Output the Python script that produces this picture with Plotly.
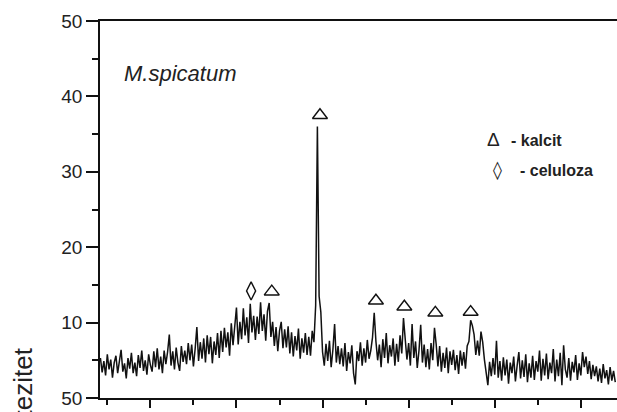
import plotly.graph_objects as go

# XRD pattern: 2-theta grid start/step and intensities
theta_start = 4.2
theta_step = 0.2
intensity = [
    5.3, 3.4, 4.9, 3.0, 5.8, 3.8, 5.1, 2.7, 4.7, 5.6,
    3.3, 4.8, 6.4, 3.5, 4.6, 2.6, 5.3, 3.9, 6.0, 3.3,
    4.7, 2.9, 5.7, 4.0, 6.3, 3.6, 5.0, 3.1, 5.8, 4.4,
    3.5, 6.2, 4.1, 6.6, 3.8, 5.5, 3.3, 6.3, 4.5, 6.1,
    8.4, 4.3, 6.2, 3.8, 6.7, 4.7, 3.6, 6.9, 4.8, 6.3,
    4.5, 7.3, 5.0, 7.1, 4.2, 6.5, 9.4, 4.9, 7.4, 5.2,
    7.9, 4.7, 8.3, 5.8, 8.1, 4.6, 7.5, 5.7, 8.6, 5.3,
    8.9, 6.1, 9.3, 6.7, 8.7, 5.6, 9.9, 7.0, 9.1, 12.0,
    7.1, 10.1, 7.8, 11.9, 8.3, 10.7, 7.3, 12.5, 8.7, 10.9,
    7.7, 10.8, 8.5, 12.7, 8.9, 11.1, 7.6, 11.5, 12.6, 8.1,
    10.1, 6.9, 9.4, 6.2, 8.9, 10.1, 6.6, 9.1, 6.7, 9.5,
    5.9, 8.7, 5.5, 8.2, 6.3, 9.2, 5.2, 7.9, 6.0, 8.6,
    5.7, 8.1, 5.6, 8.9, 7.4, 12.3, 36.0, 13.5, 11.4, 6.1,
    4.3, 7.2, 4.9, 7.6, 4.1, 6.4, 9.8, 4.7, 6.9, 4.5,
    6.6, 4.2, 7.3, 3.6, 6.1, 4.6, 7.0, 3.3, 1.8, 6.2,
    4.9, 7.4, 4.3, 6.6, 4.7, 7.7, 5.2, 6.3, 8.0, 11.3,
    7.5, 5.0, 7.1, 4.1, 7.8, 5.3, 8.6, 4.6, 7.0, 5.5,
    7.9, 4.3, 7.2, 4.8, 8.3, 5.9, 10.6, 8.0, 5.1, 7.3,
    4.3, 9.8, 5.3, 7.5, 4.0, 6.3, 9.7, 4.7, 7.1, 4.1,
    6.5, 3.8, 7.3, 5.0, 9.3, 7.1, 4.2, 6.9, 3.5, 6.0,
    4.0, 6.7, 3.3, 6.2, 4.4, 6.4, 3.7, 5.7, 3.2, 6.3,
    4.3, 6.1, 3.9, 6.9, 7.5, 10.3, 9.6, 8.4, 5.7, 7.6,
    5.6, 8.8, 7.4, 5.1, 3.4, 1.7, 4.8, 2.9, 5.3, 3.1,
    7.6, 2.7, 4.9, 2.3, 5.4, 3.0, 5.1, 1.9, 4.7, 3.3,
    5.5, 2.2, 4.3, 6.1, 2.6, 5.0, 2.8, 5.8, 2.1, 4.6,
    2.7, 5.6, 2.4, 4.9, 3.5, 6.3, 2.3, 5.2, 3.0, 5.9,
    2.5, 4.7, 3.3, 6.5, 2.2, 5.1, 2.9, 6.0, 1.7, 7.0,
    3.8, 2.7, 5.3, 2.3, 4.8, 3.4, 5.7, 2.4, 4.6, 3.0,
    6.1, 4.1, 5.5, 3.2, 4.9, 2.5, 4.4, 2.9, 4.2, 2.2,
    3.9, 2.0, 4.5, 2.6, 3.7, 1.8, 4.1, 2.3, 3.6, 2.1,
]
two_theta = [round(theta_start + theta_step * i, 2) for i in range(len(intensity))]

# peak markers
calcite_x = [24.1, 29.7, 36.2, 39.5, 43.1, 47.2]
calcite_y = [14.1, 37.5, 12.9, 12.1, 11.3, 11.4]
cellulose_x = [21.7]
cellulose_y = [14.2]

y_tickvals = [0, 10, 20, 30, 40, 50]
y_ticktext = ["50", "10", "20", "30", "40", "50"]

FONT = "Liberation Sans, Arial, sans-serif"

fig = go.Figure()
fig.add_trace(go.Scatter(x=two_theta, y=intensity, mode="lines",
                         line=dict(color="#111111", width=1.5), showlegend=False))
fig.add_trace(go.Scatter(x=calcite_x, y=calcite_y, mode="markers",
                         marker=dict(symbol="triangle-up-open", size=13,
                                     color="#111111", line=dict(width=1.4)),
                         showlegend=False))
fig.add_trace(go.Scatter(x=cellulose_x, y=cellulose_y, mode="markers",
                         marker=dict(symbol="diamond-tall-open", size=13,
                                     color="#111111", line=dict(width=1.4)),
                         showlegend=False))

fig.add_annotation(x=6.7, y=43.1, text="<i>M.spicatum</i>", showarrow=False,
                   xanchor="left", yanchor="middle",
                   font=dict(family=FONT, size=22, color="#222222"))
fig.add_annotation(x=49.9, y=34.3, text="Δ", showarrow=False,
                   xanchor="center", yanchor="middle",
                   font=dict(family=FONT, size=19, color="#222222"))
fig.add_annotation(x=51.6, y=34.2, text="<b>- kalcit</b>", showarrow=False,
                   xanchor="left", yanchor="middle",
                   font=dict(family=FONT, size=16, color="#222222"))
fig.add_annotation(x=50.3, y=30.2, text="◊", showarrow=False,
                   xanchor="center", yanchor="middle",
                   font=dict(family="DejaVu Sans, " + FONT, size=18, color="#222222"))
fig.add_annotation(x=52.7, y=30.2, text="<b>- celuloza</b>", showarrow=False,
                   xanchor="left", yanchor="middle",
                   font=dict(family=FONT, size=16, color="#222222"))
fig.add_annotation(xref="paper", yref="paper", x=-0.149, y=0.14,
                   text="Intezitet", textangle=-90, showarrow=False,
                   xanchor="center", yanchor="top",
                   font=dict(family=FONT, size=26, color="#222222"))

fig.update_layout(
    width=617, height=412,
    margin=dict(l=100, r=0, t=21, b=14, pad=0),
    paper_bgcolor="white", plot_bgcolor="white",
    xaxis=dict(range=[4.15, 64.2], showline=True, linecolor="#111111", linewidth=1.5,
               mirror=True, ticks="outside", ticklen=8, tickwidth=1.5, tickcolor="#111111",
               tick0=0, dtick=10, showticklabels=False, showgrid=False, zeroline=False,
               minor=dict(ticks="outside", ticklen=5, tickwidth=1.5, tickcolor="#111111",
                          tick0=0, dtick=5, showgrid=False)),
    yaxis=dict(range=[0, 50], showline=True, linecolor="#111111", linewidth=1.5,
               ticks="outside", ticklen=12, tickwidth=1.5, tickcolor="#111111",
               tickvals=y_tickvals, ticktext=y_ticktext, showgrid=False, zeroline=False,
               tickfont=dict(family=FONT, size=19, color="#222222"),
               minor=dict(ticks="outside", ticklen=6, tickwidth=1.5, tickcolor="#111111",
                          tickvals=[5, 15, 25, 35, 45], showgrid=False)),
)

fig.write_html("out.html")
